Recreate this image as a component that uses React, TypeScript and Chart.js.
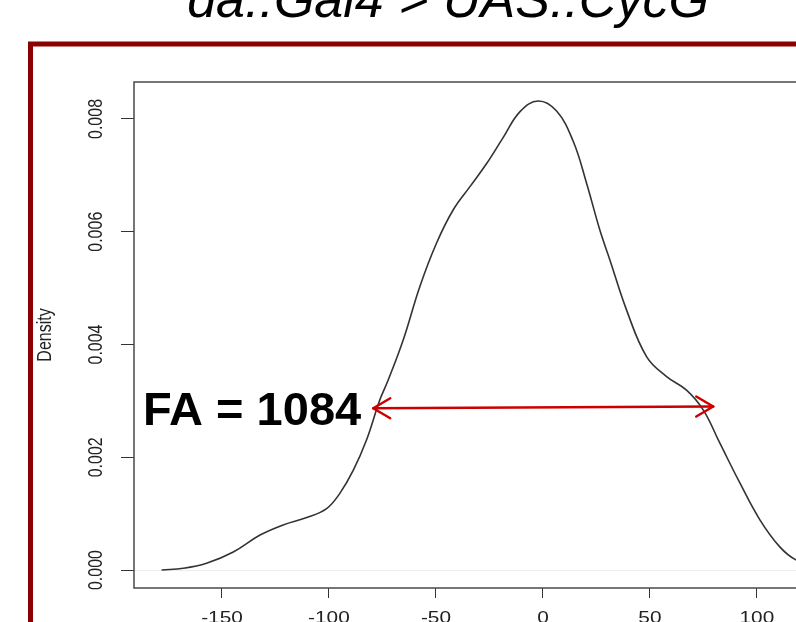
import React, { useEffect, useRef } from "react";
import { Chart, registerables } from "chart.js";

Chart.register(...registerables);

// ---- data ----
const TITLE = "da::Gal4 > UAS::CycG";
const Y_AXIS_TITLE = "Density";
const ANNOTATION = "FA = 1084";

const densityX = [
  -178.2, -168.1, -157.2, -144.7, -132.2, -121.4, -110.4, -101.1, -94.9, -88.6,
  -82.4, -76.2, -72.3, -65.3, -57.5, -49.7, -41.9, -34.1, -26.3, -18.6,
  -10.7, -2.2, 6.4, 14.2, 20.4, 26.6, 31.3, 39.1, 48.5, 57.8,
  67.1, 74.9, 82.7, 92.1, 101.4, 110.7, 118.2, 128, 138, 148,
];
const densityY = [
  0.0, 0.00003, 0.00012, 0.00032, 0.00062, 0.0008, 0.00093, 0.00109, 0.00136, 0.00177,
  0.00231, 0.00302, 0.00337, 0.00408, 0.00503, 0.0058, 0.00639, 0.0068, 0.00721, 0.00767,
  0.00813, 0.00832, 0.00814, 0.0076, 0.00686, 0.00603, 0.0055, 0.00461, 0.00378, 0.00343,
  0.00319, 0.00284, 0.00225, 0.00154, 0.00089, 0.00041, 0.00018, 0.00006, 0.00002, 0.0,
];

// FA arrow (full width at the marked height)
const arrowX = [-79.3, 79.6];
const arrowY = [0.00287, 0.0029];

const xRange = [-191.1, 162.2];
const yRange = [-0.000319, 0.008656];
const xStep = 50;
const yStep = 0.002;

const FONT = '"Liberation Sans", Arial, Helvetica, sans-serif';

export default function App() {
  const ref = useRef<HTMLCanvasElement>(null);

  useEffect(() => {
    const canvas = ref.current;
    if (!canvas) return;
    const stretch = 1.3;

    const decor = {
      id: "decor",
      beforeDraw(chart: any) {
        const c = chart.ctx;
        c.save();
        c.fillStyle = "#ffffff";
        c.fillRect(0, 0, chart.width, chart.height);
        // dark red frame
        c.strokeStyle = "#8b0000";
        c.lineWidth = 5;
        c.strokeRect(30.5, 44, chart.width + 60, chart.height + 60);
        c.restore();
      },
      afterDatasetsDraw(chart: any) {
        const c = chart.ctx;
        const a = chart.chartArea;
        const xs = chart.scales.x;
        const ys = chart.scales.y;
        c.save();
        // plot box
        c.strokeStyle = "#4a4a4a";
        c.lineWidth = 1.5;
        c.strokeRect(a.left, a.top, a.right - a.left, a.bottom - a.top);

        // y tick labels (rotated, R style)
        c.fillStyle = "#222";
        c.font = `16px ${FONT}`;
        c.textAlign = "center";
        c.textBaseline = "middle";
        for (const t of ys.ticks) {
          const py = ys.getPixelForValue(t.value);
          c.save();
          c.translate(96.5, py);
          c.rotate(-Math.PI / 2);
          c.scale(1, stretch);
          c.fillText(Number(t.value).toFixed(3), 0, 0);
          c.restore();
        }
        // y axis title
        c.save();
        c.translate(45, 335);
        c.rotate(-Math.PI / 2);
        c.scale(1, stretch);
        c.fillText(Y_AXIS_TITLE, 0, 0);
        c.restore();

        // x tick labels
        c.textBaseline = "alphabetic";
        for (const t of xs.ticks) {
          const px = xs.getPixelForValue(t.value);
          c.save();
          c.translate(px, 623);
          c.scale(stretch, 1);
          c.fillText(String(Math.round(t.value)), 0, 0);
          c.restore();
        }

        // title
        c.fillStyle = "#000";
        c.font = `italic 52px ${FONT}`;
        c.textAlign = "center";
        c.fillText(TITLE, 448, 17);

        // annotation
        c.font = `bold 47px ${FONT}`;
        c.textAlign = "left";
        c.fillText(ANNOTATION, 143, 425);

        // double arrow
        const x1 = xs.getPixelForValue(arrowX[0]);
        const y1 = ys.getPixelForValue(arrowY[0]);
        const x2 = xs.getPixelForValue(arrowX[1]);
        const y2 = ys.getPixelForValue(arrowY[1]);
        c.strokeStyle = "#cc0000";
        c.lineWidth = 2.5;
        c.lineCap = "round";
        c.lineJoin = "round";
        c.beginPath();
        c.moveTo(x1, y1);
        c.lineTo(x2, y2);
        c.stroke();
        c.beginPath();
        c.moveTo(x1 + 17, y1 - 10);
        c.lineTo(x1, y1);
        c.lineTo(x1 + 17, y1 + 10);
        c.stroke();
        c.beginPath();
        c.moveTo(x2 - 17, y2 - 10);
        c.lineTo(x2, y2);
        c.lineTo(x2 - 17, y2 + 10);
        c.stroke();
        c.restore();
      },
    };

    const chart = new Chart(canvas, {
      type: "line",
      data: {
        datasets: [
          {
            data: densityX.map((x, i) => ({ x, y: densityY[i] })),
            borderColor: "#333333",
            borderWidth: 1.6,
            pointRadius: 0,
            fill: false,
            tension: 0.4,
          },
        ],
      },
      options: {
        responsive: false,
        animation: false,
        devicePixelRatio: 1,
        layout: { padding: { left: 0, top: 82, right: 30, bottom: 0 } },
        plugins: {
          legend: { display: false },
          tooltip: { enabled: false },
          title: { display: false },
        },
        scales: {
          x: {
            type: "linear",
            position: "bottom",
            min: xRange[0],
            max: xRange[1],
            ticks: { display: false, stepSize: xStep, includeBounds: false },
            grid: {
              drawOnChartArea: false,
              drawTicks: true,
              tickLength: 10,
              tickColor: "#333",
              color: "#333",
              lineWidth: 1,
            },
            border: { display: false },
            afterFit: (s: any) => {
              s.height = 34;
            },
          },
          y: {
            type: "linear",
            position: "left",
            min: yRange[0],
            max: yRange[1],
            ticks: { display: false, stepSize: yStep, includeBounds: false },
            grid: {
              drawOnChartArea: true,
              drawTicks: true,
              tickLength: 13,
              tickColor: "#333",
              color: (ctx: any) =>
                ctx.tick && Math.abs(ctx.tick.value) < 1e-9 ? "#ececec" : "rgba(0,0,0,0)",
              lineWidth: 1,
            },
            border: { display: false },
            afterFit: (s: any) => {
              s.width = 134;
            },
          },
        },
      },
      plugins: [decor],
    } as any);

    return () => chart.destroy();
  }, []);

  return (
    <div
      style={{
        position: "fixed",
        left: 0,
        top: 0,
        width: 796,
        height: 622,
        overflow: "hidden",
        background: "#fff",
      }}
    >
      <canvas ref={ref} width={920} height={622} style={{ display: "block" }} />
    </div>
  );
}
